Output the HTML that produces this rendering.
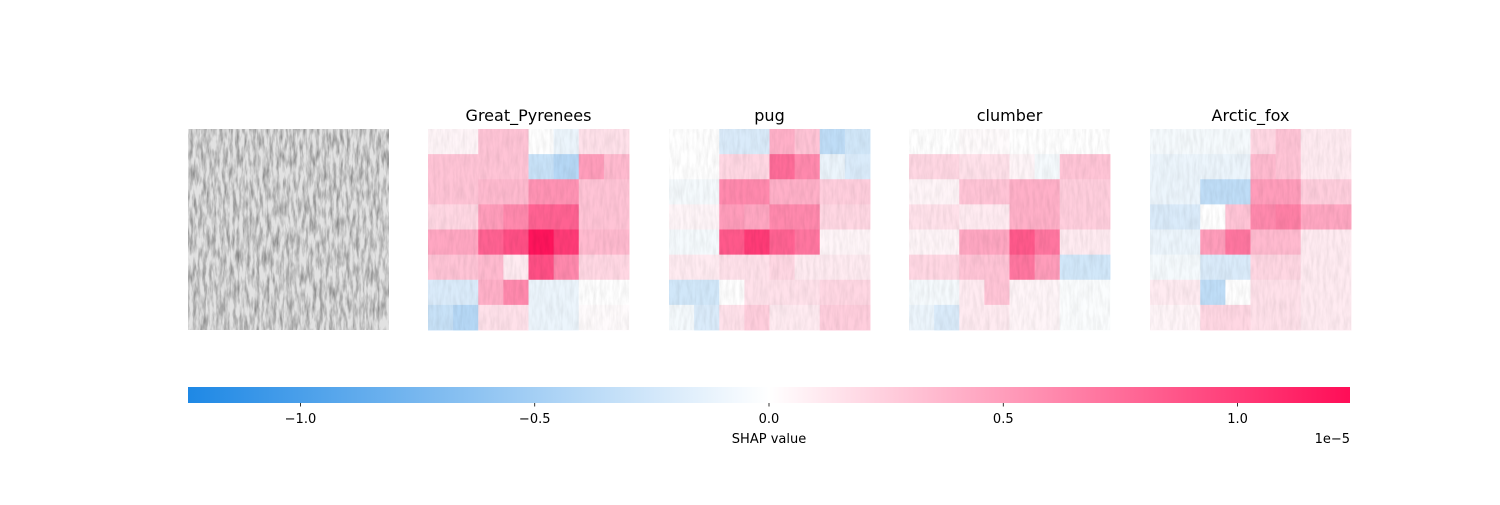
<!DOCTYPE html>
<html><head><meta charset="utf-8">
<style>
body{margin:0;background:#fff;width:1500px;height:500px;overflow:hidden;font-family:"Liberation Sans","DejaVu Sans",sans-serif;}
text{font-family:"DejaVu Sans","Liberation Sans",sans-serif;}
</style></head>
<body>
<svg id="chart" width="1500" height="500" viewBox="0 0 1500 500" xmlns="http://www.w3.org/2000/svg">
<defs>
<filter id="snow" x="0" y="0" width="100%" height="100%">
<feTurbulence type="fractalNoise" baseFrequency="0.3 0.06" numOctaves="3" seed="4"/>
<feColorMatrix type="matrix" values="0 0 0 0 0  0 0 0 0 0  0 0 0 0 0  0 0 0 -1.4 0.9"/>
</filter>
<filter id="snowfaint" x="0" y="0" width="100%" height="100%">
<feTurbulence type="fractalNoise" baseFrequency="0.3 0.06" numOctaves="3" seed="4"/>
<feColorMatrix type="matrix" values="0 0 0 0 0  0 0 0 0 0  0 0 0 0 0  0 0 0 -0.12 0.08"/>
</filter>
<linearGradient id="cbar" x1="0" x2="1" y1="0" y2="0">
<stop offset="0" stop-color="rgb(30,136,229)"/>
<stop offset="0.5" stop-color="#ffffff"/>
<stop offset="1" stop-color="rgb(255,13,87)"/>
</linearGradient>
</defs>
<g>
<rect x="188" y="129" width="201" height="201" fill="#e2e2e2"/>
<rect x="188" y="129" width="201" height="201" fill="#303030" filter="url(#snow)" opacity="0.55"/>
</g>
<g id="panels"></g>
<g>
<rect x="188" y="387" width="1162" height="16" fill="url(#cbar)"/>
</g>
<g id="ticks"></g>
<text x="769" y="443" font-size="13" text-anchor="middle" fill="#000">SHAP value</text>
<text x="1350" y="443" font-size="13" text-anchor="end" fill="#000">1e−5</text>
</svg>
<script>
const classNames = ["Great_Pyrenees","pug","clumber","Arctic_fox"];
const shapGreatPyrenees = [
[.05,.05,.3,.3,0,-.1,.15,.15],
[.3,.3,.3,.3,-.3,-.4,.5,.35],
[.3,.3,.35,.35,.55,.55,.3,.3],
[.2,.2,.5,.6,.8,.8,.3,.3],
[.45,.45,.8,.9,1.2,1.0,.35,.35],
[.3,.3,.35,.1,.9,.6,.2,.2],
[-.2,-.2,.4,.6,-.1,-.1,0,0],
[-.3,-.4,.15,.15,-.1,-.1,.02,.02]];
const shapPug = [
[0,0,-.2,-.2,.4,.3,-.35,-.25],
[0,0,.2,.2,.75,.6,-.1,-.2],
[-.05,-.05,.6,.6,.4,.4,.25,.25],
[.05,.05,.5,.45,.6,.6,.2,.2],
[-.05,-.05,.85,1.0,.8,.7,.05,.05],
[.1,.1,.15,.15,.2,.1,.1,.1],
[-.25,-.25,0,.15,.15,.15,.2,.2],
[-.05,-.2,.15,.25,.1,.1,.25,.25]];
const shapClumber = [
[0,0,.02,.02,0,0,0,0],
[.2,.2,.15,.15,.05,-.05,.3,.3],
[.05,.05,.3,.3,.4,.4,.25,.25],
[.15,.15,.1,.1,.4,.4,.25,.25],
[.05,.05,.45,.45,.85,.7,.1,.1],
[.2,.2,.3,.3,.7,.5,-.25,-.25],
[-.05,-.05,.1,.3,.05,.05,-.02,-.02],
[-.1,-.2,.1,.1,.05,.05,-.02,-.02]];
const shapArcticFox = [
[-.05,-.05,-.05,-.05,.2,.3,.1,.1],
[-.1,-.1,-.1,-.1,.35,.3,.1,.1],
[-.1,-.1,-.35,-.35,.5,.5,.25,.25],
[-.2,-.2,0,.3,.6,.65,.45,.45],
[-.1,-.1,.5,.7,.35,.35,.1,.1],
[-.05,-.05,-.2,-.2,.2,.2,.1,.1],
[.1,.1,-.35,0,.15,.15,.1,.1],
[.05,.05,.2,.2,.15,.15,.1,.1]];
const tickValues = [-1.0,-0.5,0.0,0.5,1.0];
const tickLabels = ["−1.0","−0.5","0.0","0.5","1.0"];

const NS="http://www.w3.org/2000/svg";
const vmax=1.24;
const cbX0=188, cbX1=1350;
function xScale(v){return cbX0+(v+vmax)/(2*vmax)*(cbX1-cbX0);}
function color(v){
  let t=Math.max(-1,Math.min(1,v/vmax));
  let c = t<0 ? [30,136,229] : [255,13,87];
  let a=Math.abs(t);
  let r=255+(c[0]-255)*a,g=255+(c[1]-255)*a,b=255+(c[2]-255)*a;
  return `rgb(${r|0},${g|0},${b|0})`;
}
const panelsData=[shapGreatPyrenees,shapPug,shapClumber,shapArcticFox];
const panelX=[428,669,909,1150];
const py=129, size=201;
const pg=document.getElementById('panels');
panelsData.forEach((grid,p)=>{
  const g=document.createElementNS(NS,'g');
  
  
  const n=grid.length, cs=size/n;
  grid.forEach((row,i)=>row.forEach((v,j)=>{
    const r=document.createElementNS(NS,'rect');
    
    
    r.setAttribute('x',panelX[p]+j*cs);r.setAttribute('y',py+i*cs);
    r.setAttribute('width',cs+0.5);r.setAttribute('height',cs+0.5);
    r.setAttribute('fill',color(v));
    g.appendChild(r);
  }));
  const tex=document.createElementNS(NS,'rect');
  tex.setAttribute('x',panelX[p]);tex.setAttribute('y',py);tex.setAttribute('width',size);tex.setAttribute('height',size);
  tex.setAttribute('filter','url(#snowfaint)');tex.setAttribute('fill','#000');
  g.appendChild(tex);
  const t=document.createElementNS(NS,'text');
  
  
  t.setAttribute('x',panelX[p]+size/2);t.setAttribute('y',121);
  t.setAttribute('font-size','16');t.setAttribute('text-anchor','middle');
  t.textContent=classNames[p];
  g.appendChild(t);
  pg.appendChild(g);
});
const tg=document.getElementById('ticks');
tickValues.forEach((v,i)=>{
  const x=xScale(v);
  const l=document.createElementNS(NS,'line');
  
  
  l.setAttribute('x1',x);l.setAttribute('x2',x);l.setAttribute('y1',403);l.setAttribute('y2',406.5);
  l.setAttribute('stroke','#000');l.setAttribute('stroke-width','0.8');
  tg.appendChild(l);
  const t=document.createElementNS(NS,'text');
  
  
  t.setAttribute('x',x);t.setAttribute('y',423);t.setAttribute('font-size','13');t.setAttribute('text-anchor','middle');
  t.textContent=tickLabels[i];
  tg.appendChild(t);
});
</script>
</body></html>
